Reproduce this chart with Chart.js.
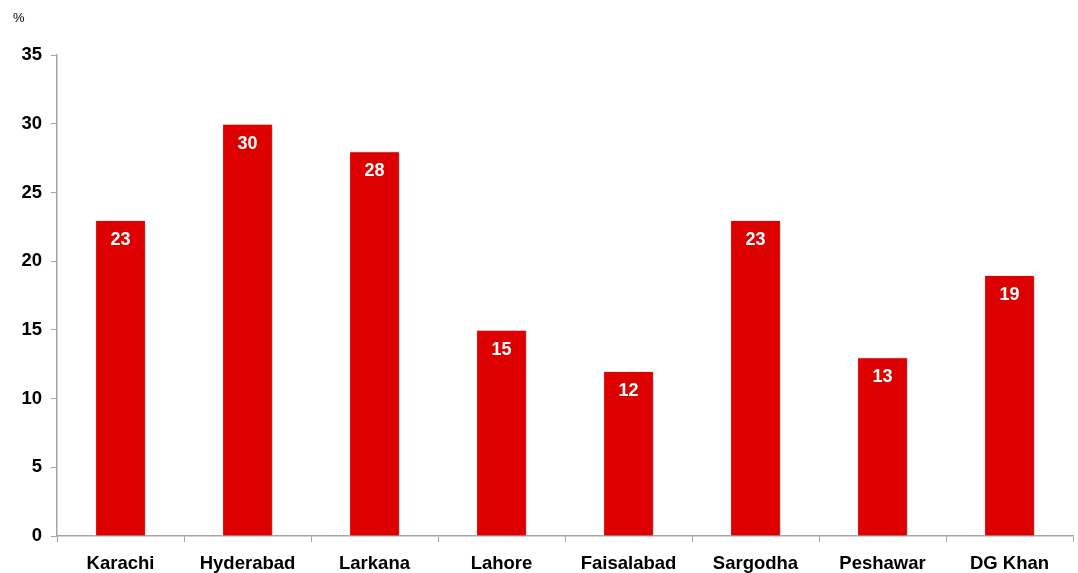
<!DOCTYPE html>
<html>
<head>
<meta charset="utf-8">
<script src="https://cdn.jsdelivr.net/npm/chart.js@4/dist/chart.umd.min.js"></script>
<style>
  html, body { margin: 0; padding: 0; background: #fff; }
  #wrap { width: 1078px; height: 573px; }
</style>
</head>
<body>
<div id="wrap"><canvas id="cityChart"></canvas></div>
<script>
var cities = ['Karachi', 'Hyderabad', 'Larkana', 'Lahore', 'Faisalabad', 'Sargodha', 'Peshawar', 'DG Khan']
var shares = [23, 30, 28, 15, 12, 23, 13, 19]
var yTicks = [0, 5, 10, 15, 20, 25, 30, 35]

var font = 'Liberation Sans, Arial, sans-serif'

// soft shadow behind bars + white value labels + "%" unit
var barDecor = {
    id: 'barDecor',
    beforeDatasetsDraw: function (chart) {
        var ctx = chart.ctx
        ctx.save()
        ctx.shadowColor = 'rgba(0,0,0,0.28)'
        ctx.shadowBlur = 3
        ctx.shadowOffsetX = 1.5
        ctx.shadowOffsetY = 1
    },
    afterDatasetsDraw: function (chart) {
        var ctx = chart.ctx
        ctx.restore()
        ctx.save()
        ctx.fillStyle = '#ffffff'
        ctx.font = 'bold 18px ' + font
        ctx.textAlign = 'center'
        ctx.textBaseline = 'middle'
        chart.getDatasetMeta(0).data.forEach(function (bar, i) {
            ctx.fillText(shares[i], bar.x, bar.y + 20)
        })
        ctx.fillStyle = '#000'
        ctx.font = '13px ' + font
        ctx.textAlign = 'left'
        ctx.fillText('%', 13, 18)
        ctx.restore()
    }
}

new Chart(document.getElementById('cityChart'), {
    type: 'bar',
    data: {
        labels: cities,
        datasets: [{
            data: shares,
            backgroundColor: '#dc0000',
            borderColor: '#f4f4f4',
            borderWidth: 1,
            borderSkipped: 'bottom',
            barPercentage: 0.8,
            categoryPercentage: 0.5
        }]
    },
    options: {
        responsive: true,
        maintainAspectRatio: false,
        animation: false,
        layout: { padding: { top: 55, right: 5, left: 0, bottom: 0 } },
        plugins: {
            legend: { display: false },
            tooltip: { enabled: false }
        },
        scales: {
            x: {
                grid: { display: true, drawOnChartArea: false, color: '#a6a6a6', tickLength: 6, offset: true },
                border: { color: '#a6a6a6', width: 1.5 },
                ticks: { color: '#000', font: { family: font, size: 18.5, weight: 'bold' }, padding: 11, maxRotation: 0 },
                afterFit: function (scale) { scale.height = 37 }
            },
            y: {
                min: 0,
                max: 35,
                afterBuildTicks: function (scale) {
                    scale.ticks = yTicks.map(function (v) { return { value: v } })
                },
                grid: { display: true, drawOnChartArea: false, color: '#a6a6a6', tickLength: 6 },
                border: { color: '#a6a6a6', width: 1.5 },
                ticks: { color: '#000', font: { family: font, size: 18.5, weight: 'bold' }, padding: 9 },
                afterFit: function (scale) { scale.width = 57 }
            }
        }
    },
    plugins: [barDecor]
})
</script>
</body>
</html>
